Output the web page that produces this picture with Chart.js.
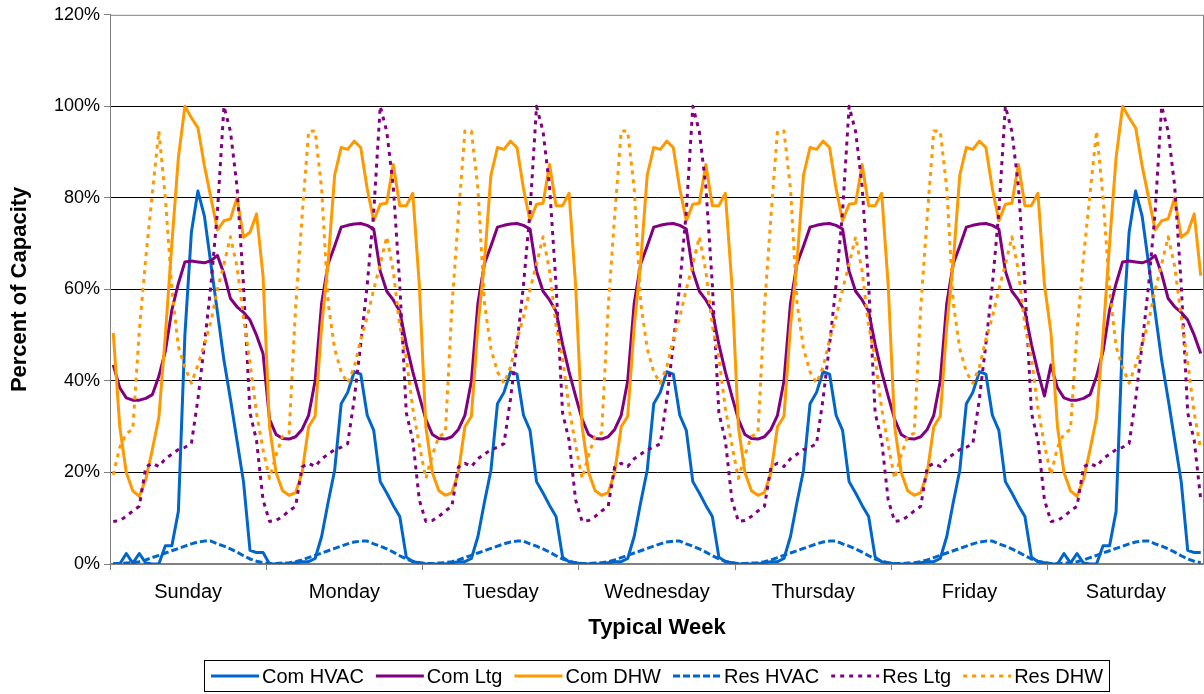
<!DOCTYPE html>
<html>
<head>
<meta charset="utf-8">
<title>Typical Week</title>
<script src="https://cdn.jsdelivr.net/npm/chart.js@4.4.1/dist/chart.umd.min.js"></script>
<style>
  html, body { margin: 0; padding: 0; background: #fff; }
  canvas { display: block; }
</style>
</head>
<body>
<canvas id="chart" width="1204" height="694"></canvas>
<script>
// Day names, one label per 24 hourly points
const days = ['Sunday', 'Monday', 'Tuesday', 'Wednesday', 'Thursday', 'Friday', 'Saturday'];

// Hourly load shapes, percent of capacity, hour 0..23
const comHvacWeekend = [0, 0, 2.3, 0.2, 2.3, 0.2, 0, 0, 4, 4, 11.5, 50, 72.5, 81.5, 76, 65.5, 55, 44.5, 36, 27, 18, 3, 2.5, 2.5];
const comHvacWeekday = [0, 0, 0, 0, 0.3, 0.5, 0.5, 1.2, 6, 13.5, 20.5, 35, 37.5, 42, 41.5, 32.5, 29.2, 18, 15.5, 12.8, 10.4, 1.5, 0.5, 0.3];

const comLtgWeekend = [43.5, 38.5, 36.3, 35.8, 35.8, 36.2, 37, 41, 46.5, 55.5, 61.3, 66, 66.2, 66, 65.8, 66.3, 67.4, 63.4, 58, 56.2, 55, 53.3, 50, 46];
const comLtgWeekday = [31.6, 28.3, 27.4, 27.3, 27.8, 29.4, 32.5, 40, 57, 65.6, 69.5, 73.6, 74, 74.3, 74.4, 74, 73.2, 64, 59.6, 57.7, 55.2, 48, 42, 36.7];

const comDhwWeekend = [50.5, 30, 20, 16, 14.8, 18.5, 25, 32, 50, 70, 88.8, 100, 97.5, 95.3, 87, 80, 73, 75, 75.4, 80, 71.4, 72.5, 76.5, 63];
const comDhwWeekday = [30, 20, 16, 15, 15.6, 20, 30, 32.3, 52, 66, 85, 91, 90.6, 92.4, 91, 82, 75, 78.6, 78.8, 87.3, 78.3, 78.3, 81, 61];

const resHvacDaily = [0.1, 0.1, 0.2, 0.3, 0.5, 0.9, 1.4, 1.9, 2.4, 2.9, 3.4, 3.9, 4.4, 4.8, 5, 5, 4.4, 3.9, 3.3, 2.6, 1.8, 1.1, 0.6, 0.3];

const resLtgDaily = [9.3, 9.5, 10.4, 11.6, 12.6, 21.2, 22, 21.3, 23, 24, 25, 25.5, 26.3, 36, 48, 61, 77, 100, 94.5, 82.5, 61, 33, 27, 14];

const resDhwWeekend = [19.5, 25.5, 28.5, 29.4, 51, 67, 81, 94.6, 80, 60, 47.5, 43, 39.5, 43.5, 48, 53, 60, 65.5, 71.5, 65, 54, 44, 33, 25];
const resDhwWeekday = [18.7, 23.8, 27.9, 28.6, 56, 76, 94.6, 94.6, 82, 57, 47, 42, 39.5, 43, 49, 54, 60, 65.5, 71.5, 64, 52, 45, 34, 26];

const yTicks = [0, 20, 40, 60, 80, 100, 120];

const FONT = '"Liberation Sans", Arial, sans-serif';

// Sunday and Saturday use the weekend shape, Monday..Friday the weekday shape
function week(weekend, weekday) {
    return [...weekend, ...weekday, ...weekday, ...weekday, ...weekday, ...weekday, ...weekend];
}

// hour i sits in the middle of its slot
function toPoints(values) {
    return values.map((v, i) => ({ x: i + 0.5, y: v }));
}

const series = [
    { label: 'Com HVAC', values: week(comHvacWeekend, comHvacWeekday), color: '#0066cc', dash: [] },
    { label: 'Com Ltg', values: week(comLtgWeekend, comLtgWeekday), color: '#800080', dash: [] },
    { label: 'Com DHW', values: week(comDhwWeekend, comDhwWeekday), color: '#ff9900', dash: [] },
    { label: 'Res HVAC', values: week(resHvacDaily, resHvacDaily), color: '#0066cc', dash: [7, 3] },
    { label: 'Res Ltg', values: week(resLtgDaily, resLtgDaily), color: '#800080', dash: [4, 5] },
    { label: 'Res DHW', values: week(resDhwWeekend, resDhwWeekday), color: '#ff9900', dash: [4, 5] }
];

// grey frame round the plot area
const plotFrame = {
    id: 'plotFrame',
    beforeDatasetsDraw(chart) {
        const { ctx, chartArea: a } = chart;
        ctx.save();
        ctx.strokeStyle = '#808080';
        ctx.lineWidth = 1;
        ctx.strokeRect(a.left + 0.5, a.top + 0.5, a.right - a.left - 1, a.bottom - a.top - 1);
        ctx.restore();
    }
};

// single-row boxed legend under the axis title
const boxedLegend = {
    id: 'boxedLegend',
    afterDraw(chart) {
        const { ctx, chartArea: a } = chart;
        const sample = 48, gap = 3, spacing = 12, padX = 6.5, h = 31;
        ctx.save();
        ctx.font = '20px ' + FONT;
        const items = chart.data.datasets.map(ds => ({ ds, w: ctx.measureText(ds.label).width }));
        const total = padX * 2 + items.reduce((t, it) => t + sample + gap + it.w, 0) + spacing * (items.length - 1);
        const left = Math.round((a.left + a.right) / 2 - total / 2) + 0.5;
        const top = chart.height - 33.5;
        ctx.strokeStyle = '#000';
        ctx.lineWidth = 1;
        ctx.strokeRect(left, top, Math.round(total), h);
        const cy = top + h / 2;
        let x = left + padX;
        items.forEach(({ ds, w }) => {
            ctx.beginPath();
            ctx.setLineDash(ds.borderDash || []);
            ctx.strokeStyle = ds.borderColor;
            ctx.lineWidth = ds.borderWidth;
            ctx.moveTo(x, cy);
            ctx.lineTo(x + sample, cy);
            ctx.stroke();
            ctx.setLineDash([]);
            ctx.fillStyle = '#000';
            ctx.textBaseline = 'middle';
            ctx.textAlign = 'left';
            ctx.fillText(ds.label, x + sample + gap, cy + 1);
            x += sample + gap + w + spacing;
        });
        ctx.restore();
    }
};

Chart.defaults.font.family = FONT;
Chart.defaults.color = '#000';

new Chart(document.getElementById('chart'), {
    type: 'line',
    data: {
        datasets: series.map((s, i) => ({
            label: s.label,
            data: toPoints(s.values),
            borderColor: s.color,
            backgroundColor: s.color,
            borderWidth: 3,
            borderDash: s.dash,
            borderJoinStyle: 'round',
            pointRadius: 0,
            tension: 0,
            fill: false,
            order: series.length - i   // later series drawn on top
        }))
    },
    options: {
        responsive: false,
        devicePixelRatio: 1,
        animation: false,
        layout: { autoPadding: false, padding: { top: 14, right: 0, bottom: 40, left: 0 } },
        plugins: {
            legend: { display: false },
            tooltip: { enabled: false }
        },
        scales: {
            x: {
                type: 'linear',
                min: 0,
                max: days.length * 24,
                afterBuildTicks: scale => {
                    scale.ticks = [];
                    for (let v = 0; v <= days.length * 24; v += 12) scale.ticks.push({ value: v });
                },
                ticks: {
                    autoSkip: false,
                    maxRotation: 0,
                    padding: 10,
                    font: { size: 20 },
                    callback: v => (v % 24 === 12 ? days[(v - 12) / 24] : '')
                },
                grid: {
                    drawOnChartArea: false,
                    tickLength: 6,
                    tickColor: c => (c.tick && c.tick.value % 24 === 0 ? '#808080' : 'rgba(0,0,0,0)')
                },
                border: { color: '#808080' },
                title: {
                    display: true,
                    text: 'Typical Week',
                    font: { size: 22, weight: 'bold' },
                    padding: { top: 0, bottom: 13 }
                },
                afterFit: scale => {
                    scale.height = 90;
                    // tick padding must not eat into the plot width
                    scale.paddingLeft = 0;
                    scale.paddingRight = 0;
                }
            },
            y: {
                min: 0,
                max: 120,
                afterBuildTicks: scale => { scale.ticks = yTicks.map(v => ({ value: v })); },
                ticks: {
                    padding: 4,
                    font: { size: 18 },
                    callback: v => v + '%'
                },
                grid: {
                    color: c => (c.tick && (c.tick.value === 0 || c.tick.value === 120) ? 'rgba(0,0,0,0)' : '#000'),
                    tickColor: '#808080',
                    tickLength: 6
                },
                border: { color: '#808080' },
                title: {
                    display: true,
                    text: 'Percent of Capacity',
                    font: { size: 22, weight: 'bold' },
                    padding: { top: 7, bottom: 0 }
                },
                afterFit: scale => { scale.width = 110; }
            }
        }
    },
    plugins: [plotFrame, boxedLegend]
});
</script>
</body>
</html>
